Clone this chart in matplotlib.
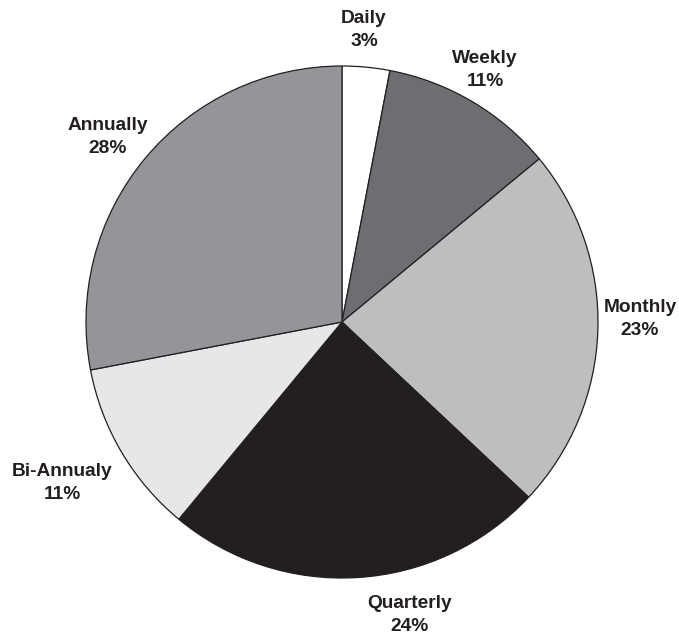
import matplotlib
matplotlib.use("Agg")
import matplotlib.pyplot as plt

categories = ["Daily", "Weekly", "Monthly", "Quarterly", "Bi-Annualy", "Annually"]
shares = [3, 11, 23, 24, 11, 28]

colors = ["#ffffff", "#6d6e71", "#bcbec0", "#231f20", "#e6e7e8", "#939598"]
# label anchor points in pie-radius units (centre = 0, 0)
label_xy = [(0.086, 1.14), (0.559, 0.984), (1.164, 0.012),
            (0.262, -1.145), (-1.094, -0.629), (-0.914, 0.723)]

fig = plt.figure(figsize=(6.79, 6.38), dpi=100)
ax = fig.add_axes([0, 0, 1, 1])

ax.pie(shares, colors=colors, startangle=90, counterclock=False,
       radius=1.0, center=(0, 0),
       wedgeprops=dict(edgecolor="#231f20", linewidth=0.9))

for name, val, (x, y) in zip(categories, shares, label_xy):
    ax.text(x, y, f"{name}\n{val}%", ha="center", va="center",
            fontsize=13.8, fontweight="bold", family="Liberation Sans",
            color="#231f20", linespacing=1.5)

ax.set_xlim(-342 / 256, (679 - 342) / 256)
ax.set_ylim(-(638 - 322) / 256, 322 / 256)
ax.set_aspect("auto")
ax.axis("off")

fig.savefig("out.png", dpi=100)
